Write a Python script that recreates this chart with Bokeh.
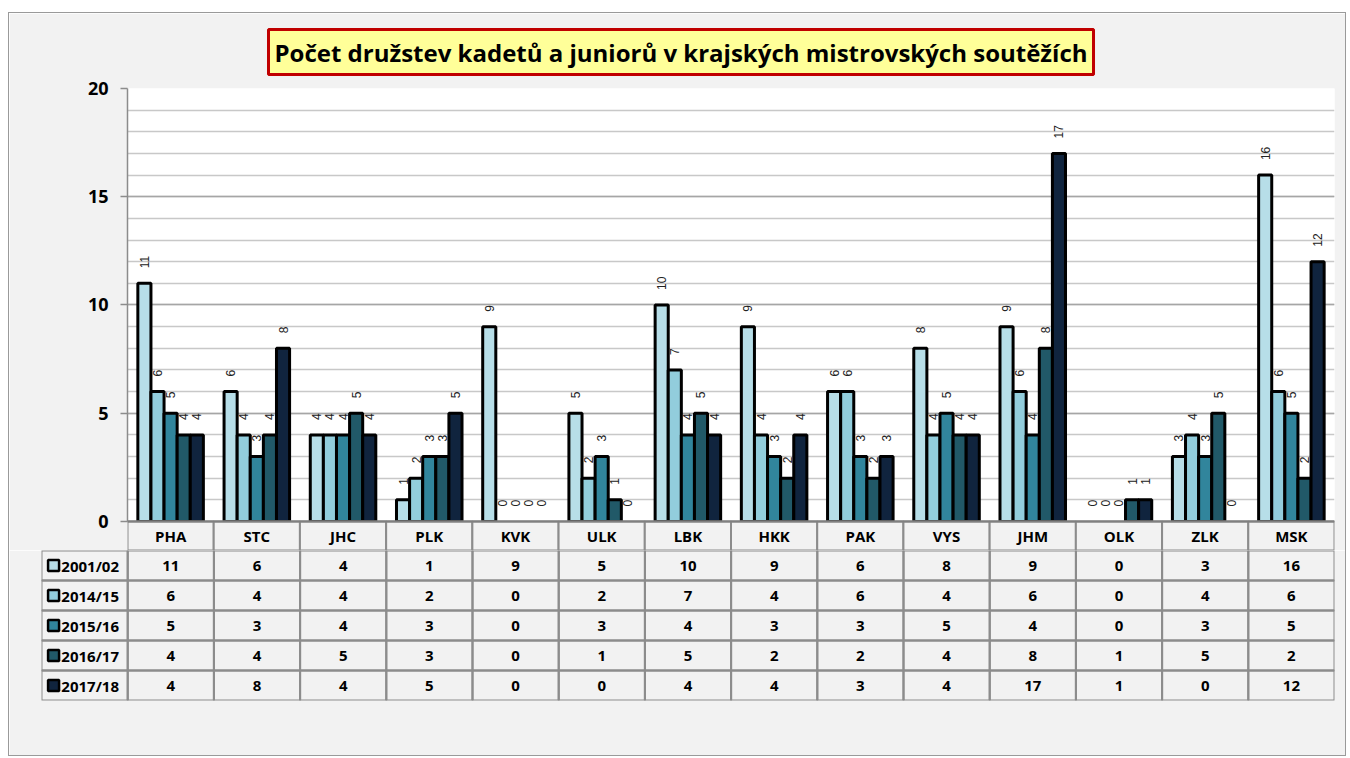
import math
from bokeh.plotting import figure
from bokeh.models import (FactorRange, Range1d, ColumnDataSource, LabelSet, Span,
                          SingleIntervalTicker, Title)
from bokeh.transform import dodge
from bokeh.layouts import column
from bokeh.core.properties import value
from bokeh.embed import file_html
from bokeh.resources import INLINE

# ---------------- data ----------------
cats = ["PHA", "STC", "JHC", "PLK", "KVK", "ULK", "LBK", "HKK", "PAK", "VYS", "JHM", "OLK", "ZLK", "MSK"]
series_names = ["2001/02", "2014/15", "2015/16", "2016/17", "2017/18"]
s_2001_02 = [11, 6, 4, 1, 9, 5, 10, 9, 6, 8, 9, 0, 3, 16]
s_2014_15 = [6, 4, 4, 2, 0, 2, 7, 4, 6, 4, 6, 0, 4, 6]
s_2015_16 = [5, 3, 4, 3, 0, 3, 4, 3, 3, 5, 4, 0, 3, 5]
s_2016_17 = [4, 4, 5, 3, 0, 1, 5, 2, 2, 4, 8, 1, 5, 2]
s_2017_18 = [4, 8, 4, 5, 0, 0, 4, 4, 3, 4, 17, 1, 0, 12]
y_max = 20
y_ticks_interval = 5
title_text = "Počet družstev kadetů a juniorů v krajských mistrovských soutěžích"

series_values = [s_2001_02, s_2014_15, s_2015_16, s_2016_17, s_2017_18]
colors = ["#b7dee8", "#92cddc", "#31859c", "#215968", "#10243e"]

BG = "#f2f2f2"
CELL_LINE = "#8c8c8c"
FONT = "Open Sans"
HDR = 1.34  # header row height in y units

# ---------------- chart (with category header row) ----------------
p = figure(width=1336, height=537, x_range=FactorRange(*cats), y_range=Range1d(-HDR, y_max),
           output_backend="svg", toolbar_location=None,
           min_border_left=118, min_border_right=11, min_border_top=75, min_border_bottom=0,
           background_fill_color="white", border_fill_color=BG, outline_line_color=None)
p.x_range.range_padding = 0
p.frame_align = False

p.title = Title(text=title_text, align="left", offset=141, standoff=28,
                text_font=FONT, text_font_size="24px",
                text_font_style="bold", text_color="black",
                background_fill_color="#ffff99", border_line_color="#c00000",
                border_line_width=3, padding=6)
p.xaxis.visible = False
p.xgrid.visible = False

ticker = SingleIntervalTicker(interval=y_ticks_interval, num_minor_ticks=5)
p.yaxis.ticker = ticker
p.yaxis.bounds = (0, y_max)
p.ygrid.ticker = ticker
p.ygrid.bounds = (0, y_max)
p.yaxis.axis_line_color = CELL_LINE
p.yaxis.axis_line_width = 1.5
p.yaxis.major_tick_line_color = CELL_LINE
p.yaxis.major_tick_line_width = 1.5
p.yaxis.major_tick_out = 7
p.yaxis.major_tick_in = 0
p.yaxis.minor_tick_line_color = None
p.yaxis.major_label_text_font = FONT
p.yaxis.major_label_text_font_style = "bold"
p.yaxis.major_label_text_font_size = "18px"
p.yaxis.major_label_text_color = "black"
p.yaxis.major_label_standoff = 12
p.ygrid.grid_line_color = "#a6a6a6"
p.ygrid.grid_line_width = 1.5
p.ygrid.minor_grid_line_color = "#c8c8c8"
p.ygrid.minor_grid_line_width = 1.5

bar_w = 0.152
offsets = [-2 * bar_w, -bar_w, 0.0, bar_w, 2 * bar_w]
for name, vals, col, off in zip(series_names, series_values, colors, offsets):
    src = ColumnDataSource(dict(cat=cats, val=vals, lbl=[str(v) for v in vals],
                                la=[1.0 if v > 0 else 0.0 for v in vals]))
    p.vbar(x=dodge("cat", off, range=p.x_range), top="val", width=bar_w, source=src,
           fill_color=col, line_color="black", line_width=3, line_alpha="la")
    p.add_layout(LabelSet(x=dodge("cat", off, range=p.x_range), y="val", text="lbl", source=src,
                          angle=math.pi / 2, text_align="left", text_baseline="middle",
                          y_offset=15, text_font=value("Liberation Sans"),
                          text_font_size="12px", text_color="#222222"))

# header row of the data table (category names)
hdr = ColumnDataSource(dict(cat=cats))
p.rect(x="cat", y=-HDR / 2, width=1, height=HDR, source=hdr, fill_color=BG,
       line_color=CELL_LINE, line_width=2)
p.text(x="cat", y=-HDR / 2, text="cat", source=hdr, text_align="center", text_baseline="middle",
       text_font=value(FONT), text_font_style="bold", text_font_size="15px", text_color="black")
p.add_layout(Span(location=0, dimension="width", line_color="#808080", line_width=2))

# ---------------- data table rows ----------------
n = len(cats)
t = figure(width=1336, height=205, x_range=Range1d(-1, n), y_range=Range1d(len(series_names), 0),
           output_backend="svg", toolbar_location=None,
           min_border_left=32, min_border_right=11, min_border_top=0, min_border_bottom=55,
           background_fill_color=BG, border_fill_color=BG, outline_line_color=None)
t.frame_align = False
t.axis.visible = False
t.grid.visible = False

cell_x, cell_y, cell_txt = [], [], []
for r, vals in enumerate(series_values):
    for c, v in enumerate(vals):
        cell_x.append(c + 0.5); cell_y.append(r + 0.5); cell_txt.append(str(v))
lab_x = [-0.5] * len(series_names)
lab_y = [r + 0.5 for r in range(len(series_names))]

cells = ColumnDataSource(dict(x=cell_x + lab_x, y=cell_y + lab_y))
t.rect(x="x", y="y", width=1, height=1, source=cells, fill_alpha=0,
       line_color=CELL_LINE, line_width=2)
t.text(x=cell_x, y=cell_y, text=cell_txt, text_align="center", text_baseline="middle",
       text_font=value(FONT), text_font_style="bold", text_font_size="15px", text_color="black")

t.scatter(x=[-0.86] * len(series_names), y=lab_y, marker="square", size=11,
          fill_color=colors, line_color="black", line_width=2.5)
t.text(x=[-0.77] * len(series_names), y=lab_y, text=series_names, text_align="left",
       text_baseline="middle", text_font=value(FONT), text_font_style="bold",
       text_font_size="15px", text_color="black")

layout = column(p, t, spacing=0,
                styles={"border": "1px solid #9a9a9a", "margin-left": "8px", "margin-top": "12px"})
open("out.html", "w").write(file_html(layout, INLINE))
